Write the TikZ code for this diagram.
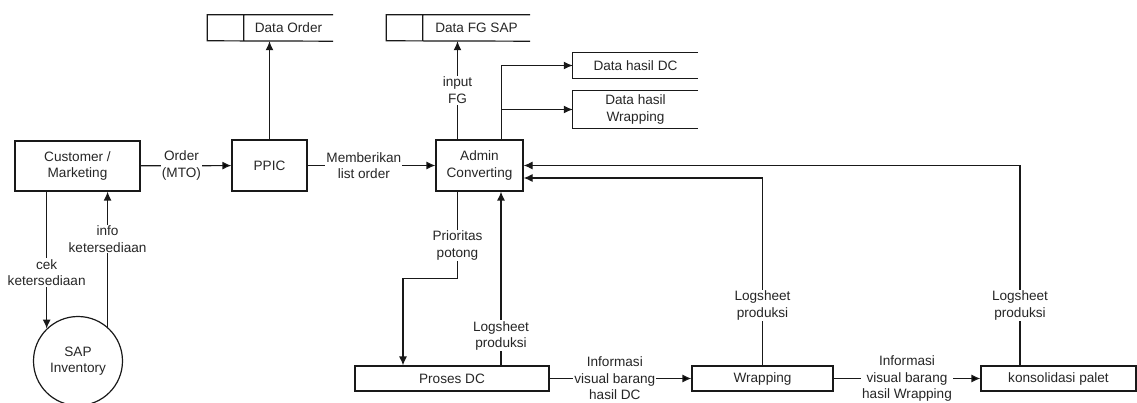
\documentclass[tikz,border=0pt]{standalone}
\usepackage{fontspec}
\setmainfont{Liberation Sans}
\usepackage{tikz}
\usetikzlibrary{positioning, arrows.meta}
\definecolor{lineclr}{rgb}{0.1, 0.1, 0.1}
\definecolor{txtclr}{rgb}{0.15, 0.15, 0.15}
\tikzset{ %
  ,>={Latex[length=9pt, width=8pt]}
  ,every node/.style={font=\fontsize{13.6}{16.5}\selectfont, text=txtclr, align=center}
  ,proc/.style={draw=lineclr, rectangle, inner sep=0, line width=1.2pt}
  ,ent/.style={draw=lineclr, circle, inner sep=0, minimum size=89pt, line width=1.2pt}
  ,store/.style={inner sep=0, minimum height=26pt}
  ,line/.style={draw=lineclr, line width=1.2pt}
  ,lbl/.style={fill=white, inner sep=1pt}
}
\begin{document}
\begin{tikzpicture}[x=1pt, y=-1pt]
  \useasboundingbox (0,0) rectangle (1137,403);
  \draw
    (77.5,166) node[proc, minimum width=125pt, minimum height=50pt] (cust) {Customer /\\Marketing}
    (269.5,165.5) node[proc, minimum width=75pt, minimum height=51pt] (ppic) {PPIC}
    (479.5,165.5) node[proc, minimum width=87pt, minimum height=51pt] (admin) {Admin\\Converting}
    (452,378.5) node[proc, minimum width=194pt, minimum height=25pt] (dc) {Proses DC}
    (762.5,378.5) node[proc, minimum width=141pt, minimum height=25pt] (wrap) {Wrapping}
    (1058.5,378.5) node[proc, minimum width=155pt, minimum height=25pt] (kons) {konsolidasi palet}
    (78,361) node[ent] (sap) {SAP\\Inventory};
  % data stores
  \draw
    (288.5,28) node[store, minimum width=89pt] (dord) {Data Order}
    (476.5,28) node[store, minimum width=107pt] (fgsap) {Data FG SAP}
    (635.5,65.5) node[store, minimum width=125pt, minimum height=25pt] (dhdc) {Data hasil DC}
    (635.5,109.5) node[store, minimum width=125pt, minimum height=37pt] (dhwr) {Data hasil\\Wrapping};
  \draw [line] (dord.north east) -- ++(-126pt,0) -- ++(0,-26pt) -- (dord.south east)
    (dord.north west) -- (dord.south west);
  \draw [line] (fgsap.north east) -- ++(-144pt,0) -- ++(0,-26pt) -- (fgsap.south east)
    (fgsap.north west) -- (fgsap.south west);
  \draw [line] (dhdc.north east) -- (dhdc.north west) -- (dhdc.south west) -- (dhdc.south east);
  \draw [line] (dhwr.north east) -- (dhwr.north west) -- (dhwr.south west) -- (dhwr.south east);
  % flows
  \draw [line,->] (cust) edge node[lbl, pos=0.45] {Order\\(MTO)} (ppic)
    (ppic) edge node[lbl, pos=0.44] {Memberikan\\list order} (admin)
    (dc) edge node[lbl, pos=0.46] {Informasi\\visual barang\\hasil DC} (wrap)
    (wrap) edge node[lbl] {Informasi\\visual barang\\hasil Wrapping} (kons);
  \draw [line,->] (ppic) -- (ppic |- dord.south);
  \draw [line,->] ([xshift=-22pt]admin.north) -- ([xshift=-22pt]admin.north |- fgsap.south)
    node[lbl, midway] {input\\FG};
  \draw [line,->] ([xshift=22pt]admin.north) |- (dhdc);
  \draw [line,->] ([xshift=22pt]admin.north) |- (dhwr);
  \draw [line,->] ([xshift=-22pt]admin.south) -- ++(0,87) node[lbl, pos=0.62] {Prioritas\\potong}
    -| ([xshift=-49pt]dc.north);
  \draw [line,->] ([xshift=49pt]dc.north) -- ([xshift=49pt]dc.north |- admin.south)
    node[lbl, pos=0.17] {Logsheet\\produksi};
  \draw [line,->] (wrap.north) |- ([yshift=-12.5pt]admin.east)
    node[lbl, pos=0.16] {Logsheet\\produksi};
  \draw [line,->] ([xshift=-38.5pt]kons.north) |- (admin.east)
    node[lbl, pos=0.15] {Logsheet\\produksi};
  \draw [line,->] (sap.134 |- cust.south) -- (sap.134)
    node[lbl, pos=0.59] {cek\\ketersediaan};
  \draw [line,->] (sap.49) -- (sap.49 |- cust.south)
    node[lbl, pos=0.65] {info\\ketersediaan};
\end{tikzpicture}
\end{document}
